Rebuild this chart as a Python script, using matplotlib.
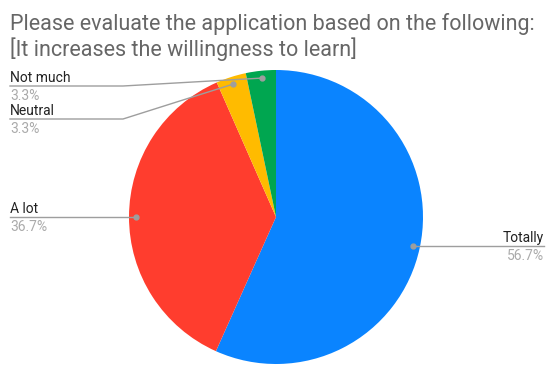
import numpy as np
import matplotlib.pyplot as plt

plt.rcParams['font.family'] = ['Roboto', 'DejaVu Sans']

title_lines = ["Please evaluate the application based on the following:",
               "[It increases the willingness to learn]"]
labels = ["Totally", "A lot", "Neutral", "Not much"]
values = [56.7, 36.7, 3.3, 3.3]
colors = ["#0a84ff", "#ff3d2e", "#ffbb00", "#00a650"]

W, H = 550, 372
cx, cy, R = 276, 217, 147   # pie centre / radius in pixels

fig = plt.figure(figsize=(W / 100, H / 100), dpi=100)
ax = fig.add_axes([(cx - R) / W, (H - cy - R) / H, 2 * R / W, 2 * R / H])
wedges, _ = ax.pie(values, colors=colors, startangle=90, counterclock=False,
                   radius=1, wedgeprops=dict(linewidth=0))
ax.set_xlim(-1, 1)
ax.set_ylim(-1, 1)
ax.set_aspect("equal")
ax.axis("off")

# overlay in pixel coordinates for labels / leader lines
ov = fig.add_axes([0, 0, 1, 1], facecolor="none")
ov.set_xlim(0, W)
ov.set_ylim(H, 0)
ov.axis("off")

for i, line in enumerate(title_lines):
    ov.text(10, 30 + 26 * i, line, fontsize=15.5, color="#666666",
            va="baseline", ha="left")

# label layout: (line y, elbow x, side)
layout = {
    "Totally": (246, None, "right"),
    "A lot": (217, None, "left"),
    "Neutral": (119, 123, "left"),
    "Not much": (86, 123, "left"),
}

for w, lab, val in zip(wedges, labels, values):
    mid = np.deg2rad((w.theta1 + w.theta2) / 2)
    dx = cx + 0.95 * R * np.cos(mid)
    dy = cy - 0.95 * R * np.sin(mid)
    ly, ex, side = layout[lab]
    if side == "right":
        xs, ys = [dx, 544], [ly, ly]
        tx, ha = 544, "right"
    else:
        if ex is None:
            xs, ys = [10, dx], [ly, ly]
        else:
            xs, ys = [10, ex, dx], [ly, ly, dy]
        tx, ha = 10, "left"
    ov.plot(xs, ys, color="#9e9e9e", lw=1)
    ov.plot(dx, dy, "o", color="#9e9e9e", ms=3.5)
    ov.text(tx, ly - 4, lab, fontsize=10, color="#222222", ha=ha, va="baseline")
    ov.text(tx, ly + 3, f"{val}%", fontsize=10, color="#aaaaaa", ha=ha, va="top")

plt.savefig("out.png", dpi=100)
